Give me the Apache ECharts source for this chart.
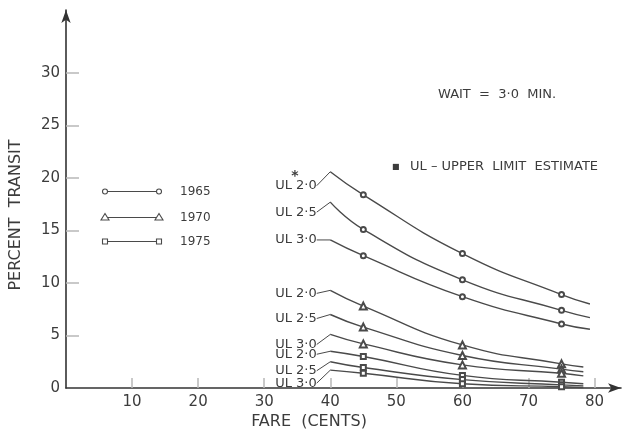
<!DOCTYPE html>
<html>
<head>
<meta charset="utf-8">
<script src="https://cdn.jsdelivr.net/npm/echarts@6/dist/echarts.min.js"></script>
<style>
html,body{margin:0;padding:0;background:#fff;}
#chart{width:629px;height:434px;}
</style>
</head>
<body>
<div id="chart"></div>
<script>
// ---- data ----
const fareUpper = [40, 45, 60, 75, 79.3];   // fares for the 1965 curves (cents)
const fareLower = [40, 45, 60, 75, 78.3];   // fares for the 1970 / 1975 curves

const y1965_UL20 = [20.6, 18.4, 12.8, 8.9, 8.0];
const y1965_UL25 = [17.7, 15.1, 10.3, 7.4, 6.7];
const y1965_UL30 = [14.1, 12.6, 8.7, 6.1, 5.6];

const y1970_UL20 = [9.3, 7.8, 4.1, 2.3, 2.0];
const y1970_UL25 = [7.0, 5.8, 3.1, 1.8, 1.55];
const y1970_UL30 = [5.1, 4.2, 2.2, 1.4, 1.15];

const y1975_UL20 = [3.5, 3.0, 1.2, 0.55, 0.4];
const y1975_UL25 = [2.5, 1.95, 0.8, 0.3, 0.2];
const y1975_UL30 = [1.7, 1.4, 0.4, 0.12, 0.05];

const curveLabels = ['UL 2·0', 'UL 2·5', 'UL 3·0'];
const years = ['1965', '1970', '1975'];
const xTickValues = [10, 20, 30, 40, 50, 60, 70, 80];
const yTickValues = [5, 10, 15, 20, 25, 30];
const yLabelValues = [0, 5, 10, 15, 20, 25, 30];

// ---- styling ----
const FONT = 'DejaVu Sans';
const INK = '#3c3c3c';
const LINE = '#4a4a4a';
const TICK = '#b8b8b8';

const curves = [
  {year: '1965', fares: fareUpper, vals: y1965_UL20, label: curveLabels[0], symbol: 'emptyCircle', size: 5, dy: 14},
  {year: '1965', fares: fareUpper, vals: y1965_UL25, label: curveLabels[1], symbol: 'emptyCircle', size: 5, dy: 10},
  {year: '1965', fares: fareUpper, vals: y1965_UL30, label: curveLabels[2], symbol: 'emptyCircle', size: 5, dy: 0},
  {year: '1970', fares: fareLower, vals: y1970_UL20, label: curveLabels[0], symbol: 'emptyTriangle', size: 7, dy: 3},
  {year: '1970', fares: fareLower, vals: y1970_UL25, label: curveLabels[1], symbol: 'emptyTriangle', size: 7, dy: 4},
  {year: '1970', fares: fareLower, vals: y1970_UL30, label: curveLabels[2], symbol: 'emptyTriangle', size: 7, dy: 10},
  {year: '1975', fares: fareLower, vals: y1975_UL20, label: curveLabels[0], symbol: 'emptyRect', size: 5, dy: 3},
  {year: '1975', fares: fareLower, vals: y1975_UL25, label: curveLabels[1], symbol: 'emptyRect', size: 5, dy: 9},
  {year: '1975', fares: fareLower, vals: y1975_UL30, label: curveLabels[2], symbol: 'emptyRect', size: 5, dy: 13}
];

const series = curves.map(function (c) {
  const n = c.fares.length;
  const data = c.fares.map(function (f, i) {
    const item = {value: [f, c.vals[i]]};
    if (i === n - 1) item.symbol = 'none';
    if (i === 0) {
      item.symbol = 'circle';
      item.symbolSize = 0.01;
      item.label = {show: true};
    }
    return item;
  });
  return {
    name: c.year,
    type: 'line',
    smooth: 0.5,
    symbol: c.symbol,
    symbolSize: c.size,
    showAllSymbol: true,
    lineStyle: {color: LINE, width: 1.4},
    itemStyle: {color: LINE, borderColor: LINE, borderWidth: 1.1},
    label: {
      show: false,
      position: 'left',
      distance: 0,
      formatter: c.label,
      fontFamily: FONT,
      fontSize: 13,
      color: INK
    },
    labelLayout: {dx: -13, dy: c.dy},
    labelLine: {show: true, lineStyle: {color: LINE, width: 1}},
    emphasis: {disabled: true},
    silent: true,
    animation: false,
    data: data,
    z: 3
  };
});

// legend built as graphic: o----o  year
function legendRow(y, kind, text) {
  const x1 = 105, x2 = 159;
  const els = [{type: 'line', shape: {x1: x1 + 2.5, y1: y, x2: x2 - 2.5, y2: y}, style: {stroke: LINE, lineWidth: 1.1}}];
  [x1, x2].forEach(function (cx) {
    if (kind === 'circle') {
      els.push({type: 'circle', shape: {cx: cx, cy: y, r: 2.5}, style: {fill: '#fff', stroke: LINE, lineWidth: 1.1}});
    } else if (kind === 'triangle') {
      els.push({type: 'polygon', shape: {points: [[cx, y - 4], [cx - 4, y + 2.5], [cx + 4, y + 2.5]]}, style: {fill: '#fff', stroke: LINE, lineWidth: 1.1}});
    } else {
      els.push({type: 'rect', shape: {x: cx - 2.5, y: y - 2.5, width: 5, height: 5}, style: {fill: '#fff', stroke: LINE, lineWidth: 1.1}});
    }
  });
  els.push({type: 'text', x: 180, y: y, style: {text: text, font: '12px "' + FONT + '"', fill: INK, verticalAlign: 'middle', align: 'left'}});
  return els;
}

const graphics = [].concat(
  legendRow(191.5, 'circle', years[0]),
  legendRow(217.5, 'triangle', years[1]),
  legendRow(241.5, 'rect', years[2]),
  [
    {type: 'text', x: 16, y: 215, rotation: Math.PI / 2, style: {text: 'PERCENT  TRANSIT', font: '16px "' + FONT + '"', fill: INK, align: 'center', verticalAlign: 'middle'}},
    {type: 'text', x: 309, y: 422, style: {text: 'FARE  (CENTS)', font: '16px "' + FONT + '"', fill: INK, align: 'center', verticalAlign: 'middle'}},
    {type: 'text', x: 438, y: 94.5, style: {text: 'WAIT  =  3·0  MIN.', font: '13px "' + FONT + '"', fill: INK, align: 'left', verticalAlign: 'middle'}},
    {type: 'text', x: 392, y: 166.5, style: {text: '■', font: '8px "' + FONT + '"', fill: INK, align: 'left', verticalAlign: 'middle'}},
    {type: 'text', x: 410, y: 166.5, style: {text: 'UL – UPPER  LIMIT  ESTIMATE', font: '13px "' + FONT + '"', fill: INK, align: 'left', verticalAlign: 'middle'}},
    {type: 'text', x: 295, y: 176, style: {text: '*', font: 'bold 14px "' + FONT + '"', fill: INK, align: 'center', verticalAlign: 'middle'}}
  ]
);

const chart = echarts.init(document.getElementById('chart'), null, {renderer: 'canvas'});
chart.setOption({
  animation: false,
  backgroundColor: '#fff',
  grid: {left: 66, right: 8, top: 10, bottom: 46, containLabel: false},
  xAxis: {
    type: 'value',
    min: 0,
    max: 84,
    axisLine: {show: true, onZero: false, symbol: ['none', 'arrow'], symbolSize: [7, 13], lineStyle: {color: '#333', width: 1.6}},
    axisTick: {show: true, inside: true, length: 10, customValues: xTickValues, lineStyle: {color: TICK, width: 1.5}},
    axisLabel: {show: true, customValues: xTickValues, margin: 7, fontFamily: FONT, fontSize: 15, color: INK},
    splitLine: {show: false}
  },
  yAxis: {
    type: 'value',
    min: 0,
    max: 36,
    axisLine: {show: true, onZero: false, symbol: ['none', 'arrow'], symbolSize: [7, 13], lineStyle: {color: '#333', width: 1.6}},
    axisTick: {show: true, inside: true, length: 13, customValues: yTickValues, lineStyle: {color: TICK, width: 1.5}},
    axisLabel: {show: true, customValues: yLabelValues, margin: 6, fontFamily: FONT, fontSize: 15, color: INK},
    splitLine: {show: false}
  },
  graphic: graphics,
  series: series
});
</script>
</body>
</html>
